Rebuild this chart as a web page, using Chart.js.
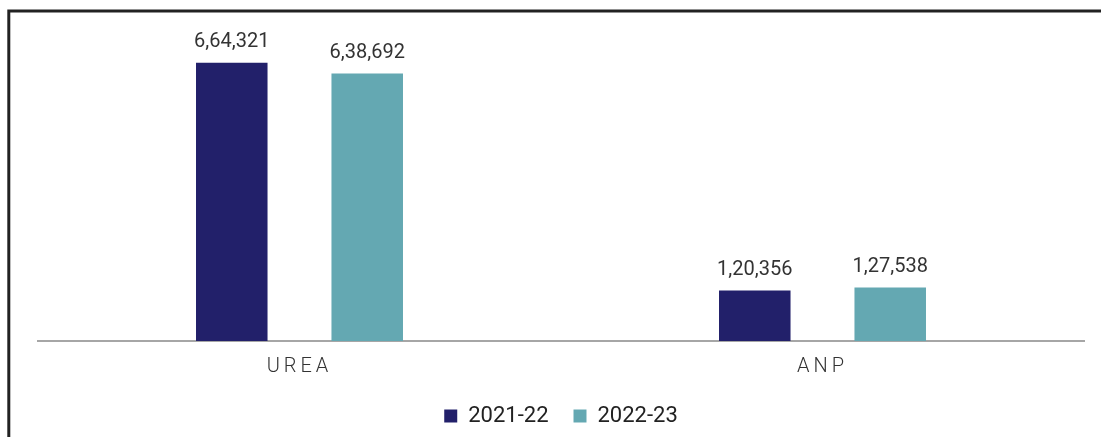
<!DOCTYPE html>
<html>
<head>
<meta charset="utf-8">
<script src="https://cdn.jsdelivr.net/npm/chart.js@4.4.0/dist/chart.umd.min.js"></script>
<style>
    html, body { margin: 0; padding: 0; background: #fff; }
    #wrap { width: 1101px; height: 437px; position: relative; }
</style>
</head>
<body>
<div id="wrap"><canvas id="fertChart"></canvas></div>
<script>
// Chart data
const categories = ['UREA', 'ANP'];
const seriesNames = ['2021-22', '2022-23'];
const values2122 = [664321, 120356];
const values2223 = [638692, 127538];
const seriesColors = ['#22206a', '#64a8b2'];

// Indian digit grouping, e.g. 664321 -> 6,64,321
function formatIndian(n) {
    const s = String(n);
    if (s.length <= 3) return s;
    let head = s.slice(0, -3);
    const tail = s.slice(-3);
    const parts = [];
    while (head.length > 2) {
        parts.unshift(head.slice(-2));
        head = head.slice(0, -2);
    }
    if (head.length) parts.unshift(head);
    return parts.join(',') + ',' + tail;
}

// Frame lines + letter spacing for axis labels
const framePlugin = {
    id: 'frame',
    beforeDraw(chart) {
        const ctx = chart.ctx;
        ctx.save();
        ctx.strokeStyle = '#222';
        ctx.lineWidth = 3;
        ctx.beginPath();
        ctx.moveTo(8.8, 437);
        ctx.lineTo(8.8, 11);
        ctx.lineTo(1101, 11);
        ctx.stroke();
        ctx.restore();
        ctx.letterSpacing = '4px';
    },
    afterInit(chart) {
        const legend = chart.legend;
        if (legend && !legend._wrapped) {
            const orig = legend.draw.bind(legend);
            legend.draw = function() {
                const prev = chart.ctx.letterSpacing;
                chart.ctx.letterSpacing = '0px';
                orig();
                chart.ctx.letterSpacing = prev;
            };
            legend._wrapped = true;
        }
    }
};

// Value labels above bars
const valueLabels = {
    id: 'valueLabels',
    afterDatasetsDraw(chart) {
        const ctx = chart.ctx;
        ctx.save();
        ctx.letterSpacing = '0px';
        ctx.font = '400 20px Roboto';
        ctx.fillStyle = '#333';
        ctx.textAlign = 'center';
        ctx.textBaseline = 'alphabetic';
        chart.data.datasets.forEach((ds, i) => {
            chart.getDatasetMeta(i).data.forEach((bar, j) => {
                ctx.fillText(formatIndian(ds.data[j]), bar.x, bar.y - 16);
            });
        });
        ctx.restore();
        ctx.letterSpacing = '0px';
    }
};

const ctxFert = document.getElementById('fertChart').getContext('2d');
const fertChart = new Chart(ctxFert, {
    type: 'bar',
    data: {
        labels: categories,
        datasets: [{
            label: seriesNames[0],
            data: values2122,
            backgroundColor: seriesColors[0]
        }, {
            label: seriesNames[1],
            data: values2223,
            backgroundColor: seriesColors[1]
        }]
    },
    options: {
        responsive: true,
        maintainAspectRatio: false,
        animation: false,
        layout: { padding: { left: 38, right: 17, top: 20, bottom: 0 } },
        datasets: { bar: { categoryPercentage: 0.518, barPercentage: 0.528 } },
        scales: {
            x: {
                grid: { display: false },
                border: { display: true, color: '#a6a6a6', width: 2 },
                ticks: {
                    color: '#333',
                    padding: 6,
                    font: { family: 'Roboto', size: 20, weight: 300 }
                },
                afterFit: function(scale) { scale.height = 39; }
            },
            y: { display: false, min: 0, max: 766600 }
        },
        plugins: {
            legend: {
                position: 'bottom',
                maxHeight: 58,
                labels: {
                    boxWidth: 13,
                    boxHeight: 13,
                    padding: 25,
                    color: '#222',
                    font: { family: 'Roboto', size: 22, lineHeight: 1 }
                }
            },
            tooltip: { enabled: false }
        }
    },
    plugins: [framePlugin, valueLabels]
});
</script>
</body>
</html>
